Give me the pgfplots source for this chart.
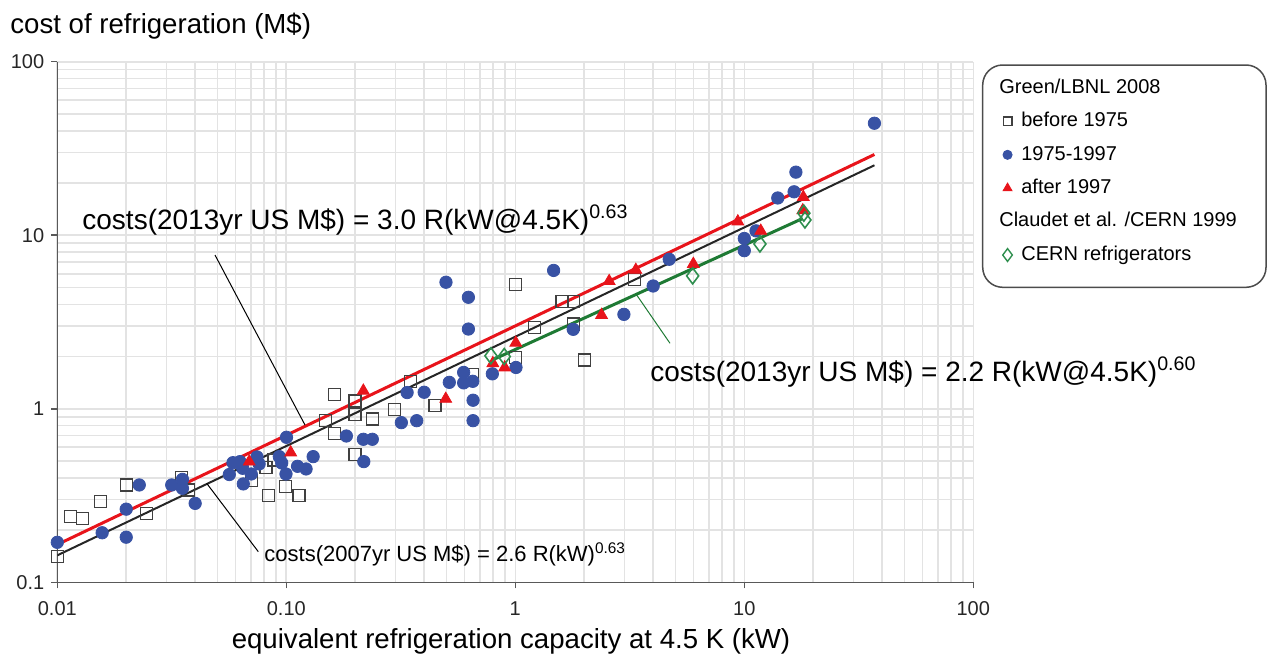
\documentclass[border=0pt]{standalone}
\usepackage{fontspec}
\setmainfont{Liberation Sans}
\usepackage{pgfplots}
\pgfplotsset{compat=1.18}
\definecolor{ptblue}{HTML}{3852A4}
\definecolor{ptred}{HTML}{E8141B}
\definecolor{ptgreen}{HTML}{1E7A34}
\definecolor{dmgreen}{HTML}{2F8F4F}
\definecolor{sqgray}{HTML}{404040}

% Green/LBNL 2008 survey (kW, M$)
\pgfplotstableread{
x y
0.0100 0.141
0.0114 0.239
0.0129 0.234
0.0155 0.292
0.0200 0.364
0.0246 0.250
0.0349 0.403
0.0373 0.340
0.0706 0.385
0.0815 0.460
0.0884 0.507
0.0838 0.318
0.0994 0.356
0.1136 0.318
0.148 0.860
0.163 1.21
0.163 0.723
0.1995 1.11
0.1995 0.929
0.1995 0.547
0.2375 0.874
0.298 0.993
0.350 1.43
0.446 1.045
0.652 1.57
1.00 5.22
1.00 1.97
1.21 2.95
1.60 4.14
1.80 4.14
1.80 3.08
2.00 1.91
3.31 5.58
}\before
\pgfplotstableread{
x y
0.0100 0.170
0.0157 0.193
0.0200 0.264
0.0200 0.182
0.0228 0.364
0.0316 0.364
0.0352 0.392
0.0352 0.348
0.0400 0.285
0.0564 0.418
0.0585 0.489
0.0628 0.496
0.0645 0.454
0.0649 0.369
0.0703 0.421
0.0745 0.528
0.0761 0.481
0.0932 0.530
0.0955 0.487
0.0997 0.421
0.1002 0.685
0.112 0.466
0.122 0.450
0.131 0.530
0.183 0.697
0.217 0.667
0.2375 0.667
0.218 0.496
0.318 0.832
0.371 0.854
0.337 1.24
0.400 1.245
0.515 1.42
0.595 1.62
0.595 1.41
0.652 1.44
0.654 1.12
0.654 0.854
0.794 1.59
0.498 5.36
0.624 4.39
0.624 2.88
1.007 1.73
1.47 6.27
1.79 2.87
2.98 3.50
4.00 5.10
4.70 7.27
10.0 9.58
10.0 8.15
11.25 10.6
14.0 16.4
16.5 17.8
16.8 23.1
37.0 44.2
}\middle
\pgfplotstableread{
x y
0.0689 0.496
0.1045 0.560
0.217 1.27
0.497 1.14
0.798 1.83
0.899 1.73
1.005 2.40
2.38 3.47
2.57 5.44
3.36 6.31
5.99 6.83
9.37 12.0
11.8 10.6
18.1 16.6
18.0 13.9
}\after
\pgfplotstableread{
x y
0.783 2.02
0.895 2.00
5.95 5.83
11.7 8.91
18.2 13.4
18.4 12.25
}\cern

\begin{document}
\begin{tikzpicture}
\useasboundingbox (-28.65pt,-36.35pt) rectangle (605.35pt,291.15pt);
\begin{axis}[
  at={(0pt,0pt)}, anchor=south west,
  scale only axis, width=458pt, height=260.3pt,
  xmode=log, ymode=log,
  xmin=0.01, xmax=100, ymin=0.1, ymax=100,
  axis lines*=left,
  axis line style={draw=black!65, line width=0.75pt},
  grid=both,
  major grid style={draw=black!11, line width=0.8pt},
  minor grid style={draw=black!11, line width=0.8pt},
  tick align=outside, major tick length=3pt, minor tick length=0pt,
  tick style={draw=black!65, line width=0.75pt},
  xtick={0.01,0.1,1,10,100}, xticklabels={0.01,0.10,1,10,100},
  ytick={0.1,1,10,100}, yticklabels={0.1,1,10,100},
  tick label style={font=\fontsize{10}{12}\selectfont, text=black!85},
  xticklabel style={yshift=-3pt},
  legend cell align=left,
  legend image code/.code={\draw[mark repeat=2,mark phase=2,#1] plot coordinates {(0pt,0pt)(4.25pt,0pt)(8.5pt,0pt)};},
  legend style={at={(1.0281,0.9681)}, anchor=north west, draw=none, fill=none,
    inner sep=0pt, outer sep=0pt, font=\fontsize{10}{12}\selectfont,
    row sep=7pt, column sep=4.5pt,
    nodes={inner sep=0pt, text height=7.5pt, text depth=2.2pt}},
]
\addlegendimage{empty legend}
\addlegendentry{\hspace*{-11pt}Green/LBNL 2008}
\addlegendimage{only marks, mark=square, mark size=2.2pt, draw=sqgray, mark options={fill=white, line width=0.6pt}}
\addlegendentry{before 1975}
\addlegendimage{only marks, mark=*, mark size=2.3pt, ptblue}
\addlegendentry{1975-1997}
\addlegendimage{only marks, mark=triangle*, mark size=2.6pt, ptred}
\addlegendentry{after 1997}
\addlegendimage{empty legend}
\addlegendentry{\hspace*{-11pt}Claudet et al. /CERN 1999}
\addlegendimage{only marks, mark=diamond, mark size=3.2pt, dmgreen, mark options={line width=0.7pt}}
\addlegendentry{CERN refrigerators}

\addplot[forget plot, only marks, mark=square, mark size=3pt, draw=sqgray, mark options={fill=white, line width=0.6pt}] table {\before};
\addplot[forget plot, only marks, mark=*, mark size=3.1pt, ptblue] table {\middle};
\addplot[forget plot, only marks, mark=triangle*, mark size=3.4pt, ptred] table {\after};
\addplot[forget plot, only marks, mark=diamond, mark size=4pt, dmgreen, mark options={line width=0.8pt}] table {\cern};

% fitted power laws (endpoints only)
\addplot[forget plot, ptred, line width=1.5pt] coordinates {(0.01,0.165) (37,29.2)};
\addplot[forget plot, black!85, line width=1pt] coordinates {(0.01,0.143) (37,25.3)};
\addplot[forget plot, ptgreen, line width=1.5pt] coordinates {(0.8,1.92) (18,12.5)};
\end{axis}

% legend frame
\draw[black!70, line width=0.75pt, rounded corners=10pt] (462.7pt,147.5pt) rectangle (604.35pt,258.65pt);

% labels
\node[anchor=base west, inner sep=0pt, font=\fontsize{13.8}{16}\selectfont] at (-23.65pt,274.65pt) {cost of refrigeration (M\$)};
\node[anchor=base, inner sep=0pt, font=\fontsize{13.8}{16}\selectfont] at (226.85pt,-32.85pt) {equivalent refrigeration capacity at 4.5 K (kW)};

% fit annotations
\draw[black, line width=0.5pt] (78.85pt,163.65pt) -- (123.85pt,78.65pt);
\draw[black, line width=0.5pt] (74.7pt,49.5pt) -- (100.5pt,15.3pt);
\draw[ptgreen, line width=0.5pt] (289.7pt,143.65pt) -- (306.35pt,119.5pt);
\node[anchor=base west, inner sep=0pt, font=\fontsize{14}{16}\selectfont] at (12.35pt,176.65pt) {costs(2013yr US M\$) = 3.0 R(kW@4.5K)\textsuperscript{0.63}};
\node[anchor=base west, inner sep=0pt, font=\fontsize{14}{16}\selectfont] at (296.35pt,100.65pt) {costs(2013yr US M\$) = 2.2 R(kW@4.5K)\textsuperscript{0.60}};
\node[anchor=base west, inner sep=0pt, font=\fontsize{11}{13}\selectfont] at (103.35pt,10.65pt) {costs(2007yr US M\$) = 2.6 R(kW)\textsuperscript{0.63}};
\end{tikzpicture}
\end{document}
